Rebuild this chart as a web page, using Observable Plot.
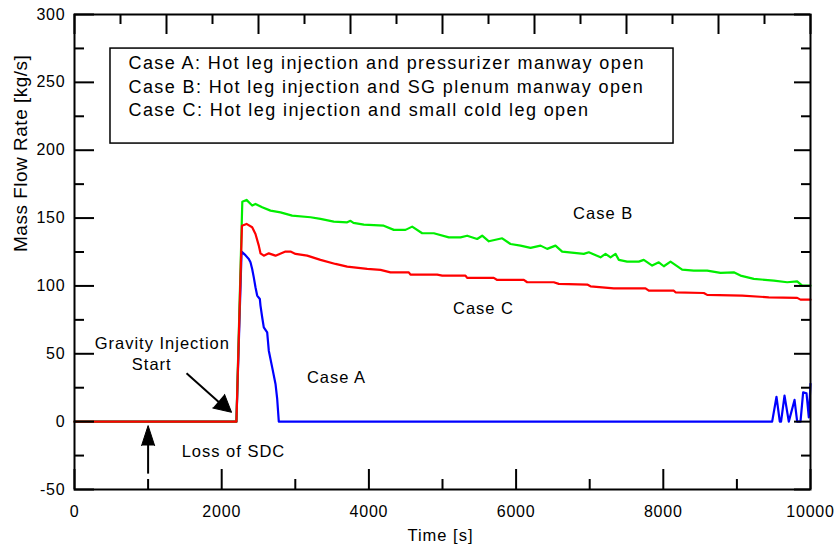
<!DOCTYPE html>
<html>
<head>
<meta charset="utf-8">
<script src="https://cdn.jsdelivr.net/npm/d3@7"></script>
<script src="https://cdn.jsdelivr.net/npm/@observablehq/plot@0.6"></script>
<style>
  html, body { margin: 0; padding: 0; background: #fff; }
  svg { font-family: "Liberation Sans", Arial, sans-serif; }
</style>
</head>
<body>
<div id="chart"></div>
<script>
// ---- Data ----
const caseA_t = [0, 2200, 2270, 2314, 2368, 2391, 2414, 2436, 2459, 2482, 2518, 2527, 2550, 2572, 2618, 2640, 2686, 2731, 2754, 2776, 9479, 9538, 9583, 9600, 9647, 9705, 9783, 9819, 9864, 9900, 9946, 9977, 10000];
const caseA_v = [0, 0, 125.3, 123.1, 119.9, 117.4, 112.5, 106.3, 99, 92.9, 90.4, 85.5, 76.9, 69.5, 65.8, 52.3, 40, 27.8, 16.7, 0, 0, 18.3, 0, 0, 19.2, 0, 16, 0, 0, 21.6, 20.9, 3.2, 27.8];

const caseB_t = [0, 2200, 2280, 2337, 2414, 2459, 2550, 2663, 2799, 2957, 3207, 3342, 3523, 3705, 3750, 3790, 3931, 4202, 4339, 4497, 4588, 4724, 4882, 5086, 5245, 5335, 5471, 5539, 5630, 5811, 5924, 6060, 6196, 6332, 6422, 6535, 6626, 6920, 6988, 7147, 7215, 7283, 7351, 7396, 7509, 7667, 7735, 7849, 7939, 8007, 8098, 8256, 8414, 8596, 8777, 8958, 9049, 9230, 9502, 9683, 9819, 9887, 10000];
const caseB_v = [0, 0, 162, 163.4, 159.2, 160.4, 157.9, 155.5, 154.2, 151.8, 150.6, 149.4, 147.4, 146.9, 148, 146.5, 145.2, 144.4, 141.3, 141.3, 143.7, 138.8, 138.8, 135.8, 135.8, 137, 134.6, 137, 132.9, 135.1, 130.9, 129.7, 128, 129.7, 127.3, 129.7, 125.3, 123.6, 124.8, 121.1, 123.6, 121.1, 123.6, 119.2, 117.9, 117.9, 119.2, 115, 117.4, 114.5, 117.9, 112, 111.3, 111.3, 109.6, 110, 107.6, 105.2, 103.9, 102.7, 103.4, 100.2, 100.2];

const caseC_t = [0, 2200, 2275, 2337, 2414, 2459, 2504, 2527, 2572, 2640, 2731, 2867, 2935, 3003, 3162, 3342, 3546, 3705, 3977, 4158, 4293, 4542, 4565, 4928, 4996, 5312, 5335, 5697, 5743, 6105, 6151, 6512, 6580, 6966, 7011, 7328, 7758, 7803, 8143, 8166, 8550, 8596, 9072, 9433, 9819, 9864, 10000];
const caseC_v = [0, 0, 144.4, 145.7, 143.2, 138.3, 129.7, 124, 122.3, 124, 122.3, 125.3, 125.3, 123.6, 122.3, 119.2, 116.2, 114.2, 112.5, 111.8, 110, 110, 108.3, 108.3, 107.6, 107.6, 105.9, 105.9, 104.4, 104.4, 102.7, 102.7, 101.5, 101, 99.7, 98.2, 98.2, 96.5, 96.5, 95.3, 94.8, 93.4, 92.9, 91.6, 91.2, 89.9, 89.9];

const xTickLabels = [0, 2000, 4000, 6000, 8000, 10000];
const xMinorBottom = [1000, 3000, 5000, 7000, 9000];
const xMajorTop = [0, 1250, 2500, 3750, 5000, 6250, 7500, 8750, 10000];
const xMinorTop = [625, 1875, 3125, 4375, 5625, 6875, 8125, 9375];
const yTickLabels = [-50, 0, 50, 100, 150, 200, 250, 300];
const yMinor = [-25, 25, 75, 125, 175, 225, 275];

const legendLines = [
  "Case A: Hot leg injection and pressurizer manway open",
  "Case B: Hot leg injection and SG plenum manway open",
  "Case C: Hot leg injection and small cold leg open"
];
const legendLineY = [263.8, 246.1, 229.2];
const legendX = 734;
const legendBox = [{x1: 489, x2: 8139, y1: 204.9, y2: 274.9}];

const annotations = [
  {t: 7183, v: 153.3, text: "Case B"},
  {t: 5557, v: 83, text: "Case C"},
  {t: 3560, v: 32.6, text: "Case A"},
  {t: 1193, v: 57.7, text: "Gravity Injection"},
  {t: 1050, v: 42.2, text: "Start"},
  {t: 2160, v: -21.9, text: "Loss of SDC"}
];
const arrowShafts = [
  {t1: 1522, v1: 35.6, t2: 1990, v2: 13},
  {t1: 1000, v1: -38.3, t2: 1000, v2: -16}
];
const headDiag = [{t: 2133, v: 6.9, angle: 130.9}];
const headUp = [{t: 1000, v: -2.9, angle: 0}];

// ---- Build series ----
const seriesA = caseA_t.map((t, i) => ({t, v: caseA_v[i]}));
const seriesB = caseB_t.map((t, i) => ({t, v: caseB_v[i]}));
const seriesC = caseC_t.map((t, i) => ({t, v: caseC_v[i]}));

const W = 836, H = 554;
const mL = 74, mR = 26, mT = 14, mB = 65;
const innerW = W - mL - mR, innerH = H - mT - mB;
const longTick = 20, shortTick = 10, rLong = 16, rShort = 9;

const chart = Plot.plot({
  width: W,
  height: H,
  marginLeft: mL,
  marginRight: mR,
  marginTop: mT,
  marginBottom: mB,
  style: {background: "#fff", fontFamily: "'Liberation Sans', Arial, sans-serif", color: "#000"},
  x: {domain: [0, 10000]},
  y: {domain: [-50, 300]},
  marks: [
    // legend box
    Plot.rect(legendBox, {x1: "x1", x2: "x2", y1: "y1", y2: "y2", fill: "white", stroke: "black", strokeWidth: 1.5}),
    Plot.text(legendLines, {x: legendX, y: (d, i) => legendLineY[i], text: d => d, textAnchor: "start", fontSize: 18, fill: "black"}),
    // data lines
    Plot.line(seriesA, {x: "t", y: "v", stroke: "#0000ff", strokeWidth: 2.2}),
    Plot.line(seriesB, {x: "t", y: "v", stroke: "#00ee00", strokeWidth: 2.2}),
    Plot.line(seriesC, {x: "t", y: "v", stroke: "#ff0000", strokeWidth: 2.2}),
    // ticks: bottom
    Plot.tickX(xTickLabels, {x: d => d, insetTop: innerH - longTick, stroke: "black", strokeWidth: 2}),
    Plot.tickX(xMinorBottom, {x: d => d, insetTop: innerH - shortTick, stroke: "black", strokeWidth: 2}),
    // ticks: top
    Plot.tickX(xMajorTop, {x: d => d, insetBottom: innerH - longTick, stroke: "black", strokeWidth: 2}),
    Plot.tickX(xMinorTop, {x: d => d, insetBottom: innerH - shortTick, stroke: "black", strokeWidth: 2}),
    // ticks: left
    Plot.tickY(yTickLabels, {y: d => d, insetRight: innerW - longTick, stroke: "black", strokeWidth: 2}),
    Plot.tickY(yMinor, {y: d => d, insetRight: innerW - shortTick, stroke: "black", strokeWidth: 2}),
    // ticks: right
    Plot.tickY(yTickLabels, {y: d => d, insetLeft: innerW - rLong, stroke: "black", strokeWidth: 2}),
    Plot.tickY(yMinor, {y: d => d, insetLeft: innerW - rShort, stroke: "black", strokeWidth: 2}),
    Plot.frame({stroke: "black", strokeWidth: 2}),
    // tick labels
    Plot.axisX(xTickLabels, {anchor: "bottom", tickSize: 0, tickPadding: 16, fontSize: 16, label: null, tickFormat: d => String(d)}),
    Plot.axisY(yTickLabels, {anchor: "left", tickSize: 0, tickPadding: 9, fontSize: 16, label: null, tickFormat: d => String(d)}),
    // axis titles
    Plot.text(["Time [s]"], {frameAnchor: "bottom", dy: 51, dx: -2, fontSize: 16.5, fill: "black"}),
    Plot.text(["Mass Flow Rate [kg/s]"], {frameAnchor: "left", rotate: -90, dx: -54, fontSize: 19, fill: "black"}),
    // annotations
    Plot.text(annotations, {x: "t", y: "v", text: "text", fontSize: 16.5, fill: "black"}),
    Plot.link(arrowShafts, {x1: "t1", y1: "v1", x2: "t2", y2: "v2", stroke: "black", strokeWidth: 2}),
    Plot.vector(headDiag, {x: "t", y: "v", rotate: "angle", length: 17, r: 9, shape: "spike", anchor: "end", fill: "black", stroke: "black", strokeWidth: 1}),
    Plot.vector(headUp, {x: "t", y: "v", rotate: "angle", length: 20, r: 6.5, shape: "spike", anchor: "end", fill: "black", stroke: "black", strokeWidth: 1})
  ]
});
document.getElementById("chart").appendChild(chart);

// letter spacing to match the reference's wide text
const annotSet = new Set(annotations.map(d => d.text).concat(["Time [s]"]));
const legendSet = new Set(legendLines);
d3.select(chart).selectAll("text").each(function() {
  const s = this.textContent;
  let ls = null;
  if (legendSet.has(s)) ls = "1.4px";
  else if (annotSet.has(s)) ls = "1px";
  else if (s === "Mass Flow Rate [kg/s]") ls = "0.5px";
  else if (/^-?\d+$/.test(s)) ls = "0.8px";
  if (ls) this.setAttribute("letter-spacing", ls);
});
</script>
</body>
</html>
